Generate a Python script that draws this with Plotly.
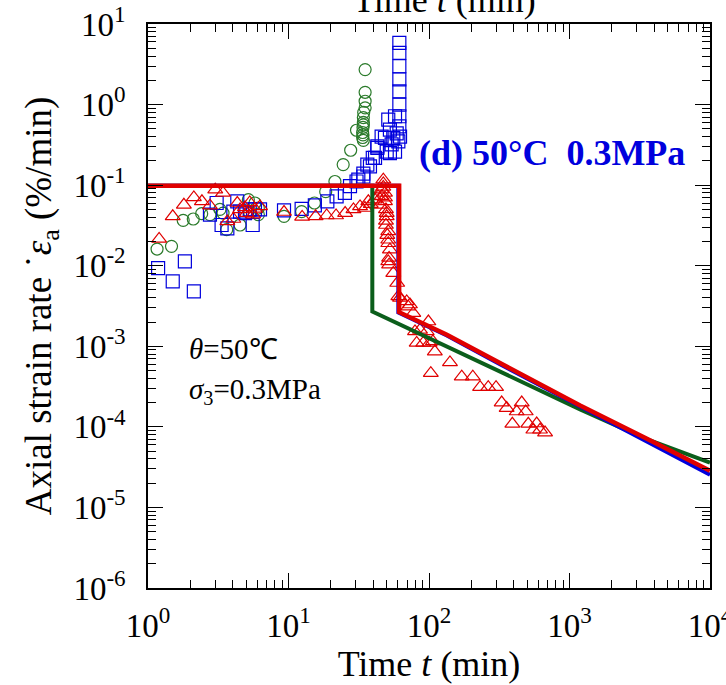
import plotly.graph_objects as go

# ---------------- data ----------------
circ_t = [1.16, 1.47, 1.78, 2.10, 2.41, 2.76, 3.25, 3.42, 3.63, 4.52, 5.18, 5.77, 6.1, 5.3, 6.1,
          9.29, 12.4, 15.3, 18.4, 21.4, 24.5, 27.7, 30.5, 33.7, 33.7, 33.9, 34.1, 34.1, 34.3,
          35.1, 35.1, 35.1, 35.1, 33.9, 34.1, 34.1]
circ_r = [0.0161, 0.0174, 0.0366, 0.038, 0.0443, 0.043, 0.050, 0.045, 0.028, 0.032, 0.066, 0.060,
          0.052, 0.045, 0.043, 0.041, 0.047, 0.060, 0.083, 0.111, 0.18, 0.271, 0.48, 0.39, 0.45,
          0.52, 0.60, 0.69, 0.80, 0.91, 1.10, 1.42, 2.72, 0.42, 0.56, 0.36]

sq_t = [1.18, 1.50, 1.83, 2.12, 2.76, 3.08, 3.34, 3.67, 4.32, 4.05, 4.52, 4.9, 5.3, 5.77, 6.27,
        5.56, 9.29, 12.4, 15.4, 18.9, 22.0, 25.2, 27.4, 30.5, 31.4, 34.1, 34.1, 36.4, 38.0, 39.8,
        41.3, 42.9, 42.9, 46.0, 48.6, 51.3, 52.7, 55.7, 58.9, 54.2, 57.3, 60.5, 52.7, 62.2, 50.0,
        61.5, 61.5, 61.5, 61.5, 61.5, 61.5, 61.5, 61.5, 57.3]
sq_r = [0.00935, 0.0064, 0.0113, 0.0048, 0.043, 0.060, 0.032, 0.029, 0.063, 0.047, 0.047, 0.045,
        0.050, 0.050, 0.050, 0.032, 0.0486, 0.0508, 0.056, 0.063, 0.0726, 0.080, 0.097, 0.111,
        0.117, 0.128, 0.139, 0.18, 0.171, 0.218, 0.218, 0.29, 0.303, 0.40, 0.385, 0.65, 0.49,
        0.385, 0.44, 0.32, 0.26, 0.35, 0.25, 0.40, 0.26,
        0.537, 0.716, 1.0, 1.46, 2.05, 2.99, 4.38, 5.84, 0.716]

tri_t = [1.20, 1.50, 1.80, 2.12, 2.42, 3.01, 3.42, 2.76, 3.67, 4.05, 4.32, 4.52, 4.9, 5.3, 5.77,
         6.27, 5.04, 5.6, 9.29, 12.5, 15.6, 18.7, 21.8, 25.3, 29.0, 32.3, 35.0, 37.0, 38.5, 41.2,
         43.4, 44.8, 46.0, 46.0, 47.3, 48.6, 50.0, 49.4, 51.3, 51.3, 52.7, 51.3, 52.0, 55.7, 59.4,
         60.5, 62.2, 69.4, 71.2, 73.2, 77.3, 99.0, 79.5, 86.3, 96.3, 81.7, 91.0, 101, 106.6, 110,
         141, 103, 171, 205, 231, 264, 300, 329, 457, 357, 421, 488, 392, 509, 584, 553, 617, 670,
         47.3, 47.3, 48.6, 48.6, 49.4, 50.0, 49.4, 50.5, 51.3, 52.0]
tri_r = [0.0215, 0.041, 0.057, 0.0705, 0.063, 0.088, 0.080, 0.0556, 0.0355, 0.038, 0.060, 0.050,
         0.053, 0.061, 0.0507, 0.0545, 0.045, 0.043, 0.0464, 0.0403, 0.041, 0.042, 0.042, 0.045,
         0.050, 0.0545, 0.052, 0.063, 0.058, 0.066, 0.0725, 0.057, 0.088, 0.073, 0.117, 0.063,
         0.041, 0.032, 0.0267, 0.021, 0.0158, 0.0113, 0.0103, 0.0081, 0.0061, 0.00416, 0.0040,
         0.0036, 0.0031, 0.0033, 0.00258, 0.00203, 0.00153, 0.0016, 0.00153, 0.0011, 0.0011,
         0.0011, 0.00115, 0.00086, 0.00063, 0.000464, 0.00042, 0.00042, 0.000311, 0.000311,
         0.000311, 0.0002, 0.0002, 0.000171, 0.000155, 0.000155, 0.000109, 0.000109, 0.00011,
         9.2e-5, 9.2e-5, 8.5e-5,
         0.105, 0.095, 0.080, 0.070, 0.050, 0.045, 0.036, 0.024, 0.019, 0.0125]

green_line_t = [1, 39.5, 39.5, 134, 320, 1190, 3500, 10000]
green_line_r = [0.098, 0.098, 0.0027, 0.00099, 0.00048, 0.000165, 7.1e-5, 3.6e-5]
blue_line_t = [1, 60.5, 60.5, 134, 320, 1190, 3500, 10000]
blue_line_r = [0.098, 0.098, 0.00262, 0.00136, 0.00060, 0.000178, 6.7e-5, 2.55e-5]
red_line_t = [1, 61.3, 61.3, 134, 320, 1190, 3500, 10000]
red_line_r = [0.098, 0.098, 0.00265, 0.00139, 0.00062, 0.000184, 7.2e-5, 2.85e-5]

y_exps = [-6, -5, -4, -3, -2, -1, 0, 1]
x_exps = [0, 1, 2, 3, 4]

GREEN_M = "#2a7a2a"
GREEN_L = "#0b5e1b"
BLUE = "#0000dd"
RED = "#e00000"
FONT = "Liberation Serif, Times New Roman, serif"

fig = go.Figure()
fig.add_trace(go.Scatter(x=circ_t, y=circ_r, mode="markers",
                         marker=dict(symbol="circle-open", size=12, color=GREEN_M,
                                     line=dict(width=1.2, color=GREEN_M))))
fig.add_trace(go.Scatter(x=sq_t, y=sq_r, mode="markers",
                         marker=dict(symbol="square-open", size=13, color=BLUE,
                                     line=dict(width=1.2, color=BLUE))))
fig.add_trace(go.Scatter(x=tri_t, y=tri_r, mode="markers",
                         marker=dict(symbol="triangle-up-open", size=13, color=RED,
                                     line=dict(width=1.2, color=RED))))
fig.add_trace(go.Scatter(x=green_line_t, y=green_line_r, mode="lines",
                         line=dict(color=GREEN_L, width=4)))
fig.add_trace(go.Scatter(x=blue_line_t, y=blue_line_r, mode="lines",
                         line=dict(color=BLUE, width=4)))
fig.add_trace(go.Scatter(x=red_line_t, y=red_line_r, mode="lines",
                         line=dict(color=RED, width=4.5)))

y_minor = [m * 10.0 ** k for k in range(-6, 1) for m in range(2, 10)]
x_minor = [m * 10.0 ** k for k in range(0, 4) for m in range(2, 10)]

axis_common = dict(type="log", showgrid=False, zeroline=False, showline=True,
                   linecolor="black", linewidth=1.5, mirror="allticks",
                   ticks="inside", ticklen=15, tickwidth=1.2, tickcolor="black",
                   ticklabeloverflow="allow", automargin=False,
                   tickfont=dict(family=FONT, size=33, color="black"))

fig.update_xaxes(**axis_common, range=[0, 4], tickmode="array",
                 tickvals=[10.0 ** e for e in x_exps],
                 ticktext=["10<sup>%d</sup>" % e for e in x_exps],
                 minor=dict(tickmode="array", tickvals=x_minor, ticks="inside",
                            ticklen=8, tickwidth=1, tickcolor="black", showgrid=False),
                 ticklabelstandoff=8,
                 title=dict(text="Time <i>t</i> (min)", standoff=6,
                            font=dict(family=FONT, size=36, color="black")))
fig.update_yaxes(**axis_common, range=[-6, 1], tickmode="array",
                 tickvals=[10.0 ** e for e in y_exps],
                 ticktext=["10<sup>%d</sup>" % e for e in y_exps],
                 minor=dict(tickmode="array", tickvals=y_minor, ticks="inside",
                            ticklen=8, tickwidth=1, tickcolor="black", showgrid=False),
                 ticklabelstandoff=14,
                 title=dict(text="Axial strain rate \u02d9<i>\u03b5</i><sub>a</sub> (%/min)",
                            standoff=10, font=dict(family=FONT, size=37, color="black")))

fig.add_annotation(x=0.479, y=0.772, xref="paper", yref="paper", xanchor="left",
                   yanchor="middle", showarrow=False,
                   text="<b>(d) 50°C \u00a00.3MPa</b>",
                   font=dict(family=FONT, size=36, color=BLUE))
fig.add_annotation(x=0.069, y=0.423, xref="paper", yref="paper", xanchor="left",
                   yanchor="middle", showarrow=False,
                   text="<i>θ</i>=50℃", font=dict(family=FONT, size=29, color="black"))
fig.add_annotation(x=0.069, y=0.350, xref="paper", yref="paper", xanchor="left",
                   yanchor="middle", showarrow=False,
                   text="<i>σ</i><sub>3</sub>=0.3MPa", font=dict(family=FONT, size=29, color="black"))
fig.add_annotation(x=0.527, y=1.0, xref="paper", yref="paper", xanchor="center",
                   yanchor="bottom", yshift=2, showarrow=False,
                   text="Time <i>t</i> (min)", font=dict(family=FONT, size=36, color="black"))

fig.update_layout(width=726, height=685, showlegend=False,
                  margin=dict(l=148, r=16, t=24, b=97, autoexpand=False),
                  paper_bgcolor="white", plot_bgcolor="white")

fig.write_html("out.html")
